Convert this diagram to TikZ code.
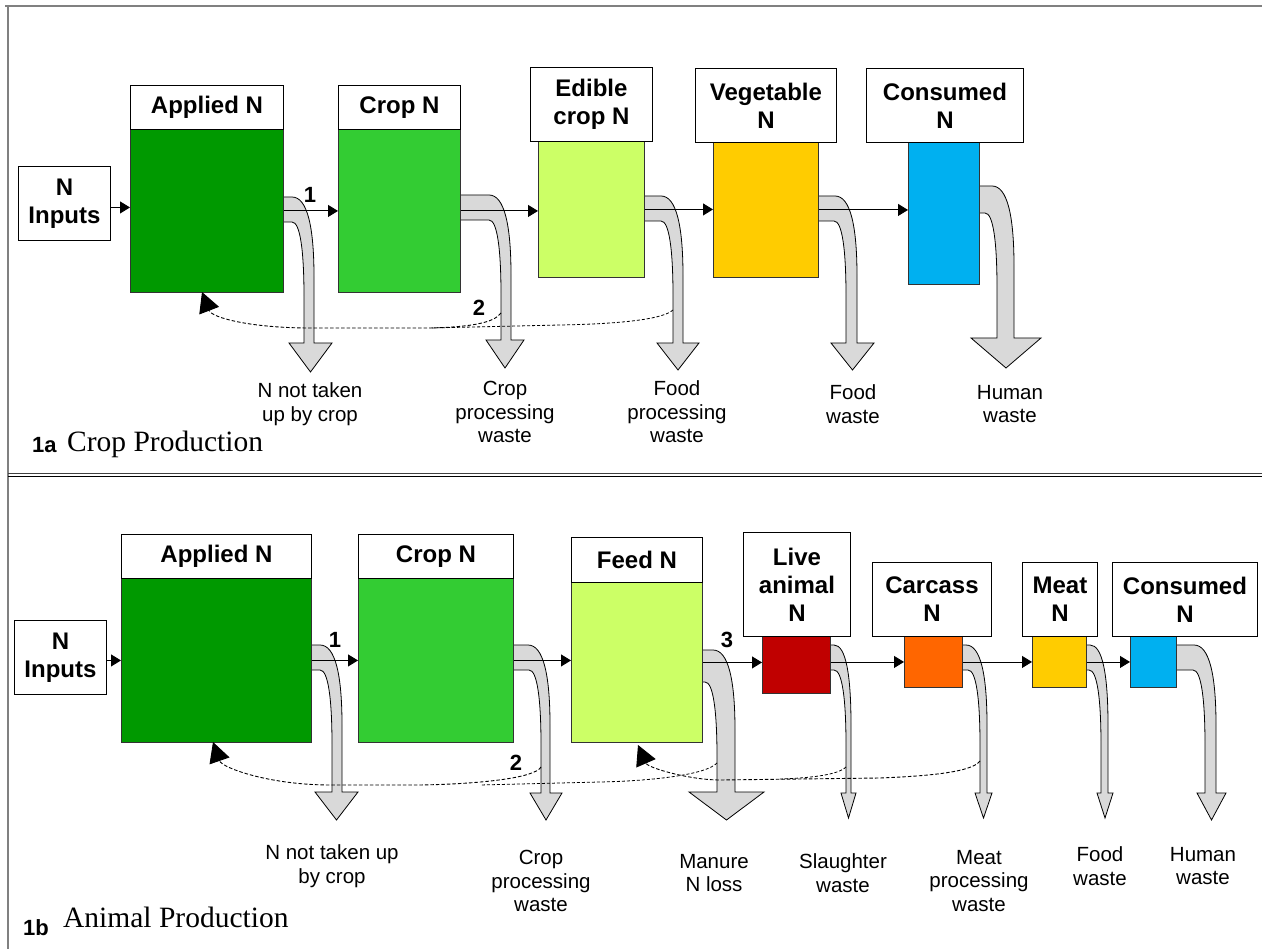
\documentclass[tikz,border=0pt]{standalone}
\usepackage{fontspec}
\setmainfont{Liberation Sans}
\newfontfamily\serifttl{Liberation Serif}
\usetikzlibrary{arrows.meta}
\definecolor{cApplied}{HTML}{009900}
\definecolor{cCrop}{HTML}{33CC33}
\definecolor{cEdible}{HTML}{CCFF66}
\definecolor{cVeg}{HTML}{FFCC00}
\definecolor{cCons}{HTML}{00B0F0}
\definecolor{cLive}{HTML}{C00000}
\definecolor{cCarc}{HTML}{FF6600}
\definecolor{cBand}{HTML}{D9D9D9}
\definecolor{cEdge}{HTML}{333333}
\definecolor{cFrame}{HTML}{808080}
\tikzset{
  lbl/.style={draw=black, fill=white, line width=0.9pt, inner sep=0pt, align=center,
    font=\bfseries\fontsize{24}{28}\selectfont, anchor=north west},
  cbox/.style={draw=cEdge, line width=0.9pt, inner sep=0pt, anchor=north west},
  wtxt/.style={align=center, font=\fontsize{20.5}{23.5}\selectfont, inner sep=0pt},
  num/.style={font=\bfseries\fontsize{22}{26}\selectfont, inner sep=0pt},
  flow/.style={-{Triangle[length=10pt,width=12pt]}, line width=0.9pt},
  fb/.style={dash pattern=on 3.5pt off 2pt, line width=0.9pt, -{Triangle[length=20pt,width=21pt]}},
  fbn/.style={dash pattern=on 3pt off 2pt, line width=0.8pt},
  wasteband/.style={fill=cBand, draw=black, line width=0.8pt},
  ttlnum/.style={anchor=base west, font=\bfseries\fontsize{22}{26}\selectfont, inner sep=0pt},
  ttl/.style={anchor=base west, font=\serifttl\fontsize{29.5}{34}\selectfont, inner sep=0pt},
}
% #1 x0, #2 band top, #3 band bottom, #4 shaft inner x, #5 shaft outer x,
% #6 head left, #7 head right, #8 head top y, #9 tip y
\newcommand\wastearrow[9]{%
  \pgfmathsetmacro\hxo{max(#1+4,#5-22)}%
  \pgfmathsetmacro\hxi{max(#1+3,#4-12)}%
  \draw[wasteband] ({#1-6},#2) -- (\hxo,#2)
    .. controls ({\hxo+0.7*(#5-\hxo)},#2) and (#5,{#2+30}) .. (#5,{#2+80})
    -- (#5,#8) -- (#7,#8) -- ({(#6+#7)/2},#9) -- (#6,#8) -- (#4,#8) -- (#4,{#3+75})
    .. controls (#4,{#3+30}) and ({\hxi+0.7*(#4-\hxi)},#3) .. (\hxi,#3)
    -- ({#1-6},#3) -- cycle;}
\begin{document}
\begin{tikzpicture}[x=1pt,y=-1pt]
\useasboundingbox (0,0) rectangle (1262,949);
% frame
\draw[cFrame, line width=2pt] (5,6) -- (1262,6);
\draw[cFrame, line width=2pt] (8,6) -- (8,949);
\draw[black!75, line width=1pt] (8,474) -- (1262,474);
\draw[black, line width=1pt] (8,477) -- (1262,477);

% ================= Panel 1a =================
\wastearrow{282}{197}{222}{304}{314}{289}{332}{343}{372}
\wastearrow{460}{195}{220}{501}{511}{486}{524}{340}{368}
\wastearrow{644}{196}{221}{673}{683}{657}{699}{343}{370}
\wastearrow{818}{196}{221}{846}{857}{831}{874}{343}{370}
\wastearrow{979}{186}{213}{997}{1014}{971}{1041}{338}{368}

\node[lbl, minimum width=92pt, minimum height=74pt] (inA) at (18,166) {N\\Inputs};
\node[cbox, fill=cApplied, minimum width=153pt, minimum height=163pt] (appAbox) at (130,129) {};
\node[lbl, minimum width=153pt, minimum height=44pt] (appAlbl) at (130,85) {Applied N};
\node[cbox, fill=cCrop, minimum width=122pt, minimum height=163pt] (cropAbox) at (338,129) {};
\node[lbl, minimum width=122pt, minimum height=44pt] (cropAlbl) at (338,85) {Crop N};
\node[cbox, fill=cEdible, minimum width=106pt, minimum height=136pt] (edBox) at (538,141) {};
\node[lbl, minimum width=122pt, minimum height=74pt] (edLbl) at (530,67) {Edible\\crop N};
\node[cbox, fill=cVeg, minimum width=105pt, minimum height=135pt] (vegBox) at (713,142) {};
\node[lbl, minimum width=141pt, minimum height=74pt] (vegLbl) at (695,68) {Vegetable\\N};
\node[cbox, fill=cCons, minimum width=71pt, minimum height=142pt] (consAbox) at (908,142) {};
\node[lbl, minimum width=157pt, minimum height=74pt] (consAlbl) at (866,68) {Consumed\\N};

\draw[flow] ([yshift=-4pt]inA.east) -- ([yshift=-4pt]inA.east -| appAbox.west);
\draw[flow] (appAbox.east) -- (appAbox.east -| cropAbox.west);
\draw[flow] (cropAbox.east) -- (cropAbox.east -| edBox.west);
\draw[flow] (edBox.east) -- (edBox.east -| vegBox.west);
\draw[flow] (vegBox.east) -- (vegBox.east -| consAbox.west);

\node[num] (n1a) at (310,195) {1};
\node[num] (n2a) at (479,308) {2};

\coordinate (qa1) at (501,313);
\coordinate (qa2) at (673,310);
\coordinate (qaT) at (202,292);
\draw[fbn] (qa2) .. controls (662,320) and (615,324) .. (560,325) -- (430,328);
\draw[fb] (qa1) .. controls (494,323) and (470,327) .. (430,328) -- (310,328)
  .. controls (252,328) and (212,318) .. (qaT);

\node[wtxt] (wa1) at (310,404) {N not taken\\up by crop};
\node[wtxt] (wa2) at (505,412) {Crop\\processing\\waste};
\node[wtxt] (wa3) at (677,412) {Food\\processing\\waste};
\node[wtxt] (wa4) at (853,404) {Food\\waste};
\node[wtxt] (wa5) at (1010,404) {Human\\waste};

\node[ttlnum] (t1a) at (32,453) {1a};
\node[ttl] (t1aT) at (67,452) {Crop Production};

% ================= Panel 1b =================
\wastearrow{311}{645}{670}{332}{342}{315}{358}{792}{820}
\wastearrow{513}{645}{670}{541}{550}{530}{562}{793}{820}
\wastearrow{702}{650}{682}{717}{735}{689}{764}{792}{820}
\wastearrow{830}{645}{670}{846}{851}{841}{856}{793}{818}
\wastearrow{962}{645}{670}{980}{987}{975}{992}{793}{818}
\wastearrow{1086}{645}{670}{1101}{1108}{1097}{1113}{793}{818}
\wastearrow{1176}{645}{670}{1205}{1216}{1197}{1226}{793}{820}

\node[lbl, minimum width=92pt, minimum height=74pt] (inB) at (14,620) {N\\Inputs};
\node[cbox, fill=cApplied, minimum width=190pt, minimum height=164pt] (appBbox) at (121,578) {};
\node[lbl, minimum width=190pt, minimum height=44pt] (appBlbl) at (121,534) {Applied N};
\node[cbox, fill=cCrop, minimum width=155pt, minimum height=164pt] (cropBbox) at (358,578) {};
\node[lbl, minimum width=155pt, minimum height=44pt] (cropBlbl) at (358,534) {Crop N};
\node[cbox, fill=cEdible, minimum width=131pt, minimum height=160pt] (feedBox) at (571,582) {};
\node[lbl, minimum width=131pt, minimum height=45pt] (feedLbl) at (571,537) {Feed N};
\node[cbox, fill=cLive, minimum width=68pt, minimum height=57pt] (liveBox) at (762,636) {};
\node[lbl, minimum width=107pt, minimum height=104pt] (liveLbl) at (743,532) {Live\\animal\\N};
\node[cbox, fill=cCarc, minimum width=58pt, minimum height=51pt] (carcBox) at (904,636) {};
\node[lbl, minimum width=119pt, minimum height=74pt] (carcLbl) at (872,562) {Carcass\\N};
\node[cbox, fill=cVeg, minimum width=54pt, minimum height=51pt] (meatBox) at (1032,636) {};
\node[lbl, minimum width=75pt, minimum height=74pt] (meatLbl) at (1022,562) {Meat\\N};
\node[cbox, fill=cCons, minimum width=46pt, minimum height=51pt] (consBbox) at (1130,636) {};
\node[lbl, minimum width=145pt, minimum height=74pt] (consBlbl) at (1112,562) {Consumed\\N};

\draw[flow] (inB.east |- appBbox.west) -- (appBbox.west);
\draw[flow] (appBbox.east) -- (appBbox.east -| cropBbox.west);
\draw[flow] (cropBbox.east) -- (cropBbox.east -| feedBox.west);
\draw[flow] (feedBox.east) -- (feedBox.east -| liveBox.west);
\draw[flow] (liveBox.east |- carcBox.west) -- (carcBox.west);
\draw[flow] (carcBox.east) -- (meatBox.west);
\draw[flow] (meatBox.east) -- (consBbox.west);

\node[num] (n1b) at (335,640) {1};
\node[num] (n2b) at (516,763) {2};
\node[num] (n3b) at (727,640) {3};

\coordinate (pb1) at (541,767);
\coordinate (pb2) at (717,763);
\coordinate (pb3) at (980,761);
\coordinate (pb4) at (846,767);
\coordinate (pbT1) at (213,742);
\coordinate (pbT2) at (638,745);
\draw[fbn] (pb2) .. controls (706,775) and (650,781) .. (600,782) -- (480,785);
\draw[fb] (pb1) .. controls (535,778) and (480,784) .. (420,785) -- (330,785)
  .. controls (270,785) and (222,768) .. (pbT1);
\draw[fbn] (pb4) .. controls (838,775) and (810,778) .. (780,779);
\draw[fb] (pb3) .. controls (972,772) and (930,776) .. (880,778) -- (720,780)
  .. controls (690,780) and (648,768) .. (pbT2);

\node[wtxt] (wb1) at (332,866) {N not taken up\\by crop};
\node[wtxt] (wb2) at (541,881) {Crop\\processing\\waste};
\node[wtxt] (wb3) at (714,873) {Manure\\N loss};
\node[wtxt] (wb4) at (843,873) {Slaughter\\waste};
\node[wtxt] (wb5) at (979,881) {Meat\\processing\\waste};
\node[wtxt] (wb6) at (1100,866) {Food\\waste};
\node[wtxt] (wb7) at (1203,866) {Human\\waste};

\node[ttlnum] (t1b) at (23,935) {1b};
\node[ttl] (t1bT) at (63,927) {Animal Production};
\end{tikzpicture}
\end{document}
